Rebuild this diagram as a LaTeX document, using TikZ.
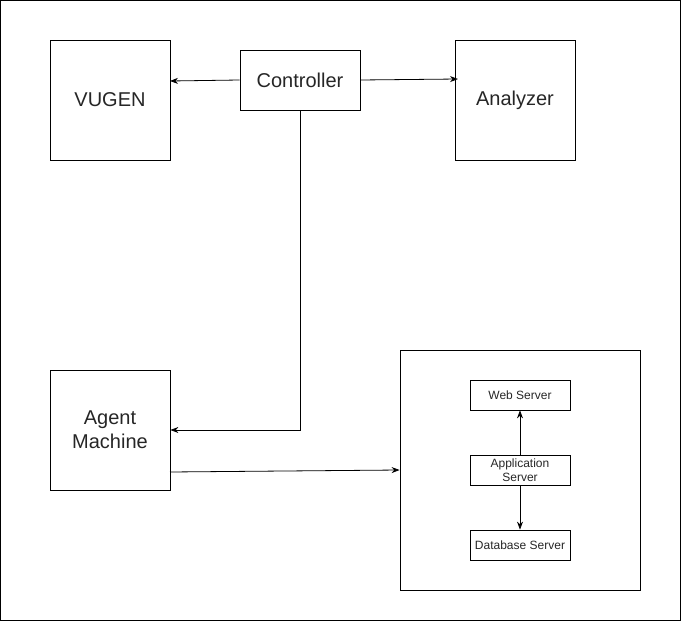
\documentclass[tikz,border=0pt]{standalone}
\usepackage{fontspec}
\setmainfont{Liberation Sans}
\usetikzlibrary{arrows.meta,calc}
\tikzset{
	bigbox/.style={draw, line width=0.8pt, minimum width=120pt, minimum height=120pt, align=center, text=black!85, font=\fontsize{20}{24}\selectfont},
	ctrlbox/.style={draw, line width=0.8pt, minimum width=120pt, minimum height=60pt, text=black!85, font=\fontsize{20}{24}\selectfont},
	srvbox/.style={draw, line width=0.8pt, minimum width=100pt, minimum height=30pt, align=center, text=black!85, font=\fontsize{12}{14}\selectfont},
	conn/.style={line width=0.8pt, -{Stealth[length=8pt,width=6pt]}}
}
\begin{document}
\begin{tikzpicture}[x=1pt, y=-1pt]
		%%%%% START %%%%%
		
		\useasboundingbox (0, 0) rectangle (681, 621);
		\draw[line width=0.8pt] (0.5, 0.5) rectangle (680.5, 620.5);
		
		\node[bigbox] (vugen) at (110, 100) {VUGEN};
		\node[ctrlbox] (ctrl) at (300, 80) {Controller};
		\node[bigbox] (analyzer) at (515, 100) {Analyzer};
		\node[bigbox] (agent) at (110, 430) {Agent\\Machine};
		
		\node[draw, line width=0.8pt, minimum width=240pt, minimum height=240pt] (env) at (520, 470) {};
		\node[srvbox] (web) at (520, 395) {Web Server};
		\node[srvbox] (app) at (520, 470) {Application\\Server};
		\node[srvbox] (db) at (520, 545) {Database Server};
		
		\coordinate (vugenin) at (170, 81);
		\coordinate (analyzerin) at (458, 79);
		\coordinate (agentout) at (170, 472);
		
		\draw[conn] (ctrl.west) -- (vugenin);
		\draw[conn] (ctrl.east) -- (analyzerin);
		\draw[conn] (ctrl.south) |- (agent.east);
		\draw[conn] (agentout) -- (env.west);
		
		\draw[conn] (app.north) -- (web.south);
		\draw[conn] (app.south) -- (db.north);
		
		%%%%% END %%%%%
	\end{tikzpicture}
\end{document}
